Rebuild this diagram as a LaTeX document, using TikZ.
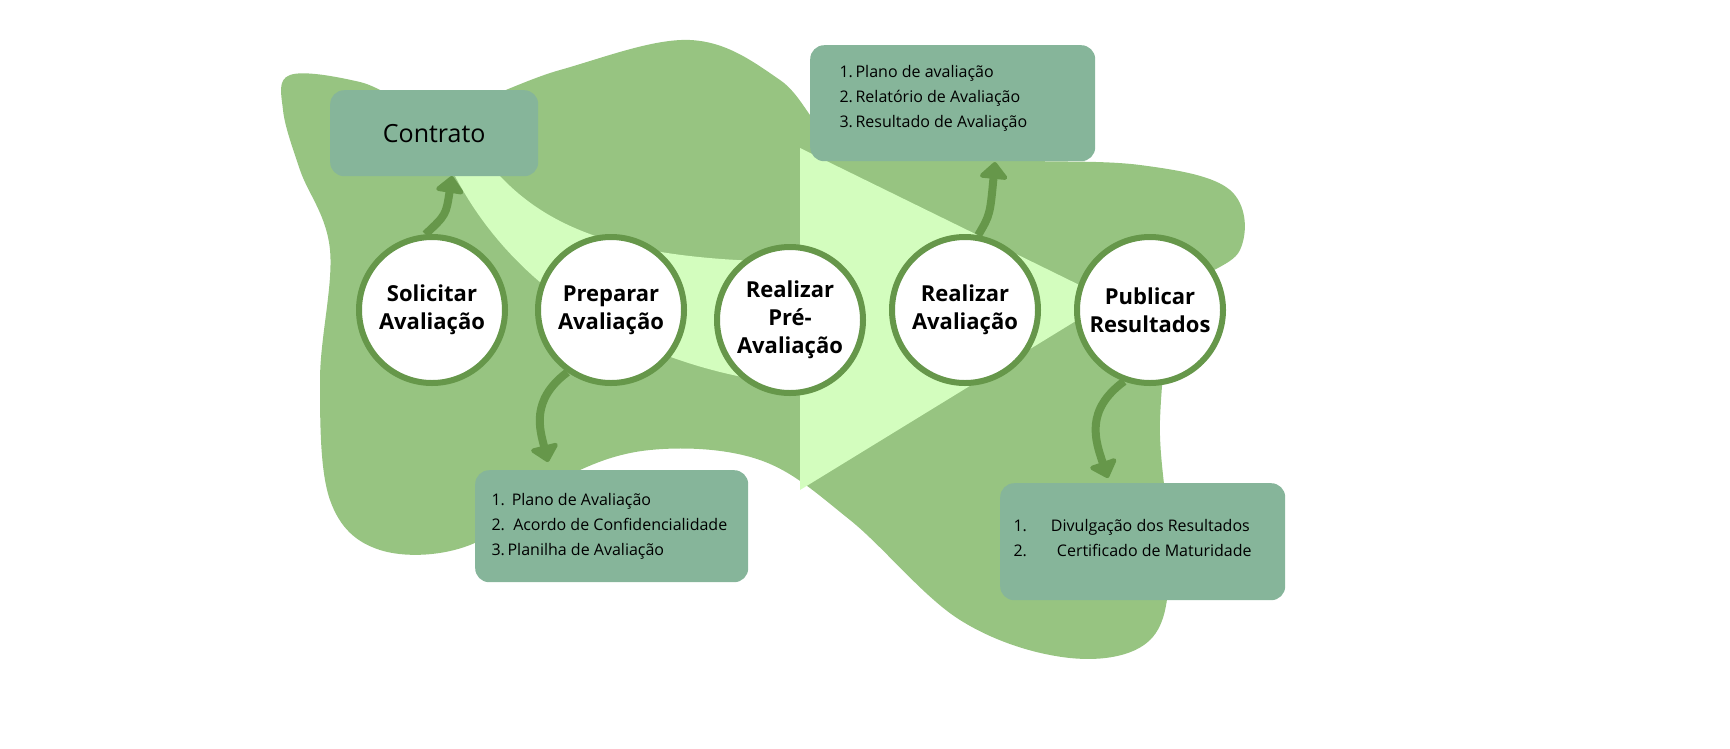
\documentclass[tikz,border=0pt]{standalone}
\usepackage{fontspec}
\setmainfont{Open Sans}
\usetikzlibrary{arrows.meta}
\definecolor{blob}{HTML}{97C481}
\definecolor{light}{HTML}{D3FDBE}
\definecolor{boxc}{HTML}{86B59A}
\definecolor{ring}{HTML}{66974A}
\begin{document}
\begin{tikzpicture}[x=1pt,y=-1pt,
 stepc/.style={circle,draw=ring,line width=6pt,fill=white,minimum size=146pt,align=center,font=\bfseries\fontsize{22}{28}\selectfont},
 box/.style={fill=boxc,rounded corners=14pt,anchor=north west,inner sep=0pt},
 btext/.style={anchor=north west,align=left,font=\fontsize{16}{25}\selectfont},
 arr/.style={draw=ring,line width=8pt,-{Triangle[length=18pt,width=32pt,round]}}]
\useasboundingbox (0,0) rectangle (1730,748);
\fill[blob] plot[smooth cycle,tension=0.6] coordinates{(290,75)(360,82)(440,110)(560,70)(690,40)(780,80)(850,150)(1000,160)(1140,165)(1230,190)(1240,250)(1180,300)(1160,420)(1170,560)(1150,640)(1070,658)(960,620)(850,520)(760,460)(650,450)(560,480)(470,545)(380,550)(330,500)(320,380)(330,250)(300,170)(283,110)};
\fill[light] (455,176) .. controls (520,300) and (650,370) .. (795,385) -- (795,262) .. controls (650,260) and (560,240) .. (500,176) -- cycle;
\fill[light] (800,148) -- (800,490) -- (1110,300) -- cycle;
\node[box,minimum width=208pt,minimum height=86pt] (b1) at (330,90) {};
\node[font=\fontsize{25}{30}\selectfont] (t1) at (b1.center) {Contrato};
\node[box,minimum width=285pt,minimum height=116pt] (b2) at (810,45) {};
\node[btext] (t2) at (836,62) {1.\,Plano de avaliação\\2.\,Relatório de Avaliação\\3.\,Resultado de Avaliação};
\node[box,minimum width=273pt,minimum height=112pt] (b3) at (475,470) {};
\node[btext] (t3) at (488,490) {1.\ \,Plano de Avaliação\\2.\ \ Acordo de Confidencialidade\\3.\,Planilha de Avaliação};
\node[box,minimum width=285pt,minimum height=117pt] (b4) at (1000,483) {};
\node[btext] (t4) at (1010,516) {1.\hspace{24pt}Divulgação dos Resultados\\2.\hspace{30pt}Certificado de Maturidade};
\node[stepc] (s1) at (432,310) {Solicitar\\Avaliação};
\node[stepc] (s2) at (611,310) {Preparar\\Avaliação};
\node[stepc] (s3) at (790,320) {Realizar\\Pré-\\Avaliação};
\node[stepc] (s4) at (965,310) {Realizar\\Avaliação};
\node[stepc] (s5) at (1150,310) {Publicar\\Resultados};
\coordinate (a1) at (452,176);
\coordinate (a2) at (548,462);
\coordinate (a3) at (995,162);
\coordinate (a4) at (1108,478);
\draw[arr] (s1.95) .. controls (446,215) .. (a1);
\draw[arr] (s2.235) .. controls (530,400) and (540,430) .. (a2);
\draw[arr] (s4.80) .. controls (990,215) .. (a3);
\draw[arr] (s5.250) .. controls (1085,410) and (1095,440) .. (a4);
\end{tikzpicture}
\end{document}
